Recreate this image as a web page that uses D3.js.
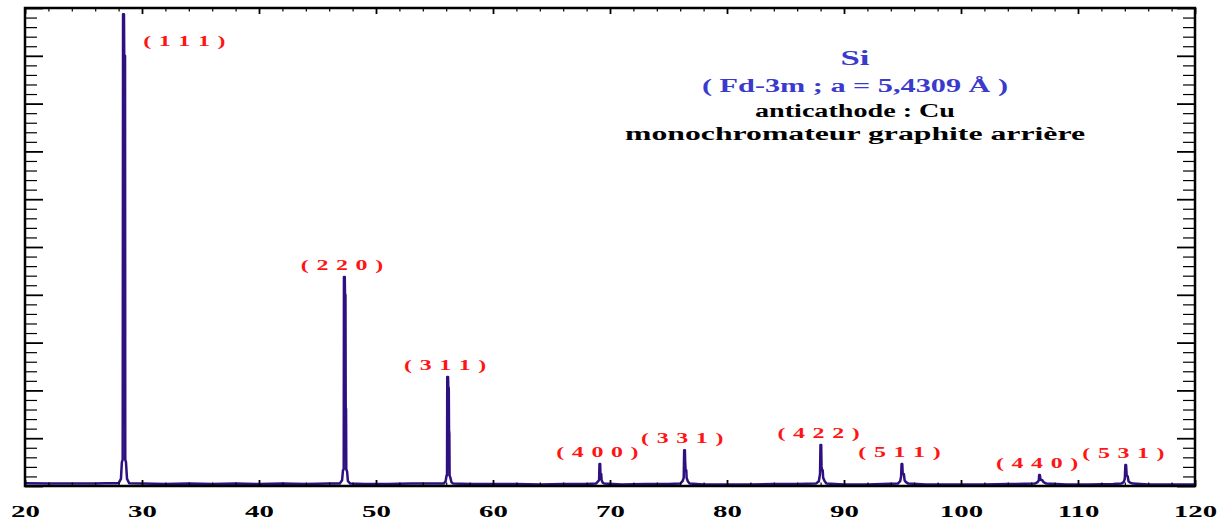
<!DOCTYPE html>
<html>
<head>
<meta charset="utf-8">
<script src="https://cdn.jsdelivr.net/npm/d3@7/dist/d3.min.js"></script>
<style>
  body { margin: 0; background: #fff; }
</style>
</head>
<body>
<div id="chart"></div>
<script>
// Si powder diffractogram (Cu anticathode), 2theta in degrees, intensity in arbitrary units (0-10)

var hklLabels = ["( 1 1 1 )", "( 2 2 0 )", "( 3 1 1 )", "( 4 0 0 )", "( 3 3 1 )", "( 4 2 2 )", "( 5 1 1 )", "( 4 4 0 )", "( 5 3 1 )"];
var peakPos = [28.44, 47.30, 56.12, 69.13, 76.38, 88.03, 94.95, 106.71, 114.09];

// hand read profiles [2theta, intensity]
var p111 = [[28.0,0.06],[28.2,0.15],[28.28,0.5],[28.35,0.55],[28.38,9.87],[28.46,9.87],[28.48,9.0],[28.55,9.0],[28.57,0.55],[28.63,0.5],[28.72,0.15],[28.9,0.06]];
var p220 = [[46.9,0.05],[47.1,0.12],[47.18,0.33],[47.24,0.35],[47.26,4.37],[47.33,4.37],[47.35,4.0],[47.39,4.0],[47.41,1.65],[47.44,1.6],[47.46,0.35],[47.53,0.3],[47.6,0.1],[47.8,0.05]];
var p311 = [[55.8,0.05],[55.95,0.1],[56.03,0.22],[56.07,0.22],[56.09,2.28],[56.16,2.28],[56.18,2.05],[56.22,2.05],[56.24,1.17],[56.27,1.1],[56.29,0.22],[56.35,0.18],[56.45,0.08],[56.6,0.05]];
var p400 = [[68.8,0.05],[69.0,0.1],[69.07,0.13],[69.1,0.46],[69.16,0.46],[69.18,0.27],[69.25,0.25],[69.28,0.13],[69.35,0.08],[69.5,0.05]];
var p331 = [[76.0,0.05],[76.2,0.1],[76.3,0.17],[76.34,0.75],[76.4,0.75],[76.42,0.54],[76.46,0.33],[76.52,0.33],[76.55,0.17],[76.65,0.1],[76.8,0.05]];
var p422 = [[87.6,0.05],[87.85,0.1],[87.95,0.25],[87.99,0.86],[88.05,0.86],[88.08,0.4],[88.13,0.33],[88.18,0.33],[88.22,0.17],[88.35,0.1],[88.5,0.05]];
var p511 = [[94.6,0.05],[94.8,0.1],[94.88,0.2],[94.92,0.46],[94.98,0.46],[95.02,0.25],[95.12,0.25],[95.18,0.12],[95.3,0.08],[95.5,0.05]];
var p440 = [[106.3,0.05],[106.55,0.08],[106.65,0.12],[106.68,0.23],[106.74,0.23],[106.8,0.13],[106.95,0.12],[107.05,0.08],[107.3,0.05]];
var p531 = [[113.7,0.05],[113.9,0.08],[114.0,0.15],[114.05,0.44],[114.11,0.44],[114.16,0.22],[114.25,0.2],[114.32,0.1],[114.45,0.07],[114.7,0.05]];

var background = [[20,0.06],[22,0.05],[24,0.05],[26,0.05],[27,0.06],[30,0.05],[32,0.04],[34,0.05],[36,0.04],[38,0.05],[40,0.04],[42,0.05],[44,0.04],[46,0.05],[49,0.04],[51,0.04],[53,0.05],[55,0.05],[58,0.04],[60,0.04],[62,0.04],[64,0.03],[66,0.04],[68,0.04],[71,0.03],[73,0.04],[75,0.04],[78,0.03],[80,0.03],[82,0.03],[84,0.04],[86,0.04],[90,0.03],[92,0.03],[97,0.03],[100,0.03],[102,0.03],[104,0.04],[109,0.03],[111,0.03],[113,0.04],[116,0.03],[118,0.03],[120,0.03]];

var xMajor = [20, 30, 40, 50, 60, 70, 80, 90, 100, 110, 120];
var titleLines = ["Si", "( Fd-3m ; a = 5,4309 \u00c5 )", "anticathode : Cu", "monochromateur graphite arri\u00e8re"];

var profiles = [p111, p220, p311, p400, p331, p422, p511, p440, p531];

// set the plot frame
var W = 1228, H = 520;
var plotL = 25, plotR = 1195, plotT = 8, plotB = 486;
var stretch = 1.65;   // the picture's lettering is wide

var svg = d3.select("#chart")
    .append("svg")
    .attr("width", W)
    .attr("height", H);

var x = d3.scaleLinear().domain([20, 120]).range([plotL, plotR]);
var y = d3.scaleLinear().domain([0, 10]).range([plotB, plotT]);

// merge background and peaks into one pattern
var pts = background.filter(function(b) {
    return !profiles.some(function(p) { return b[0] >= p[0][0] && b[0] <= p[p.length - 1][0]; });
});
profiles.forEach(function(p) { pts = pts.concat(p); });
pts.sort(function(a, b) { return a[0] - b[0]; });

var line = d3.line()
    .x(function(d) { return x(d[0]); })
    .y(function(d) { return y(d[1]); });

svg.append("path")
    .datum(pts)
    .attr("d", line)
    .attr("fill", "none")
    .attr("stroke", "#2e1080")
    .attr("stroke-width", 2.5)
    .attr("stroke-linejoin", "round");

// ticks, all pointing inward
var xMinor = d3.range(20, 121, 2).filter(function(v) { return v % 10 !== 0; });
var yMajor = d3.range(0, 11);
var yMinor = d3.range(0, 51).filter(function(k) { return k % 5 !== 0; }).map(function(k) { return k / 5; });

function addAxis(axis, tr, w) {
    var g = svg.append("g").attr("transform", tr).call(axis.tickSizeOuter(0));
    g.select(".domain").remove();
    g.selectAll(".tick line").attr("stroke", "#000").attr("stroke-width", w);
    return g;
}

var xb = addAxis(d3.axisBottom(x).tickValues(xMajor).tickSizeInner(-6).tickFormat(d3.format("d")), "translate(0," + plotB + ")", 1.8);
addAxis(d3.axisBottom(x).tickValues(xMinor).tickSizeInner(-3.5).tickFormat(""), "translate(0," + plotB + ")", 1.2);
addAxis(d3.axisTop(x).tickValues(xMajor).tickSizeInner(-6).tickFormat(""), "translate(0," + plotT + ")", 1.8);
addAxis(d3.axisTop(x).tickValues(xMinor).tickSizeInner(-3.5).tickFormat(""), "translate(0," + plotT + ")", 1.2);
addAxis(d3.axisLeft(y).tickValues(yMajor).tickSizeInner(-18).tickFormat(""), "translate(" + plotL + ",0)", 1.8);
addAxis(d3.axisLeft(y).tickValues(yMinor).tickSizeInner(-12).tickFormat(""), "translate(" + plotL + ",0)", 1.2);
addAxis(d3.axisRight(y).tickValues(yMajor).tickSizeInner(-18).tickFormat(""), "translate(" + plotR + ",0)", 1.8);
addAxis(d3.axisRight(y).tickValues(yMinor).tickSizeInner(-12).tickFormat(""), "translate(" + plotR + ",0)", 1.2);

xb.attr("font-family", "'Liberation Serif', 'Times New Roman', serif")
    .attr("font-size", 17.5)
    .attr("font-weight", "bold");
xb.selectAll("text")
    .attr("fill", "#000")
    .attr("y", 31)
    .attr("dy", null)
    .attr("transform", "scale(" + stretch + ",1)");

// frame
svg.append("rect")
    .attr("x", plotL)
    .attr("y", plotT)
    .attr("width", plotR - plotL)
    .attr("height", plotB - plotT)
    .attr("fill", "none")
    .attr("stroke", "#000")
    .attr("stroke-width", 2.5);

// hkl labels above each peak
profiles.forEach(function(p, i) {
    var lx = x(peakPos[i]) - 2;
    var ly = y(d3.max(p, function(d) { return d[1]; })) - 7;
    if (i === 0) { lx += 63; ly += 39; }   // (111) sits right of its peak
    svg.append("text")
        .attr("transform", "translate(" + lx + "," + ly + ") scale(" + stretch + ",1)")
        .attr("text-anchor", "middle")
        .attr("font-family", "'Liberation Serif', 'Times New Roman', serif")
        .attr("font-weight", "bold")
        .attr("font-size", 14.5)
        .attr("letter-spacing", 0.5)
        .attr("fill", "#ff1414")
        .text(hklLabels[i]);
});

// title block
var titleY = [65, 92, 117, 140];
var titleSize = [22, 18.5, 18, 18];
var titleLen = [29, 306, 200, 460];
var titleCol = ["#3a3acc", "#3a3acc", "#000", "#000"];
titleLines.forEach(function(t, i) {
    svg.append("text")
        .attr("x", 855)
        .attr("y", titleY[i])
        .attr("text-anchor", "middle")
        .attr("font-family", "'Liberation Serif', 'Times New Roman', serif")
        .attr("font-weight", "bold")
        .attr("font-size", titleSize[i])
        .attr("fill", titleCol[i])
        .attr("textLength", titleLen[i])
        .attr("lengthAdjust", "spacingAndGlyphs")
        .text(t);
});
</script>
</body>
</html>
